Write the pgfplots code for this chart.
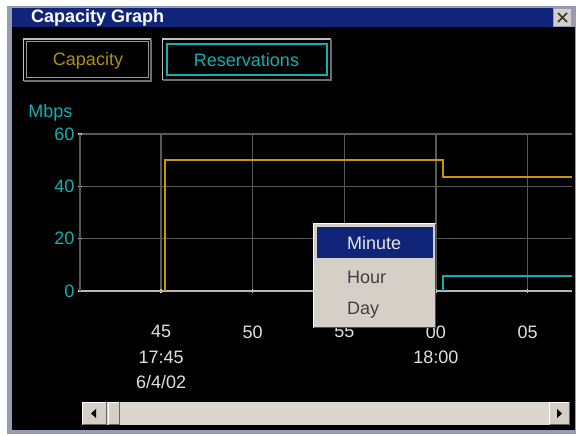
\documentclass[border=0pt]{standalone}
\usepackage{fontspec}
\setmainfont{Liberation Sans}
\usepackage{pgfplots}
\pgfplotsset{compat=1.18}
\definecolor{winblue}{RGB}{16,36,120}
\definecolor{btnface}{RGB}{212,208,200}
\definecolor{capcol}{RGB}{196,152,8}
\definecolor{captext}{RGB}{176,146,0}
\definecolor{rescol}{RGB}{16,176,176}
\definecolor{gridcol}{RGB}{88,88,88}
\definecolor{framecol}{RGB}{150,156,180}
\definecolor{btnlight}{RGB}{190,190,190}
\definecolor{btndark}{RGB}{110,110,110}
\begin{document}
\begin{tikzpicture}
\path[use as bounding box, fill=white] (0pt,0pt) rectangle (576pt,-435pt);
\begin{scope}[x=1pt,y=-1pt]
  % window frame
  \fill[framecol] (7,6) rectangle (576,434);
  \fill[black] (12,27) rectangle (575,430);
  % title bar
  \fill[winblue] (12,8) rectangle (553,27);
  \node[anchor=west, text=white, font=\bfseries\fontsize{18}{20}\selectfont, inner sep=0] at (31,18) {Capacity Graph};
  \fill[btnface] (554,9) rectangle (571,26);
  \draw[line width=1.6pt, black!80] (558,13) -- (567,22) (567,13) -- (558,22);
  % Capacity button
  \draw[line width=1.5pt, btnlight] (23.5,81) -- (23.5,39) -- (151,39);
  \draw[line width=1.5pt, btndark] (151,39) -- (151,81) -- (23.5,81);
  \draw[line width=1pt, btnlight!80!black] (26.5,78) rectangle (148,42);
  \node[text=captext, font=\fontsize{18}{20}\selectfont] at (88,60.5) {Capacity};
  % Reservations button
  \draw[line width=1.5pt, btnlight] (162.5,80) -- (162.5,39) -- (331,39);
  \draw[line width=1.5pt, btndark] (331,39) -- (331,80) -- (162.5,80);
  \draw[line width=2pt, rescol] (167,44) rectangle (326.5,75);
  \node[text=rescol, font=\fontsize{18}{20}\selectfont] at (246.5,60.5) {Reservations};
  % y unit label
  \node[text=rescol, font=\fontsize{18}{20}\selectfont, anchor=east] at (76,113) {Mbps};
\end{scope}

\begin{axis}[
  at={(80pt,-291pt)}, anchor=south west,
  scale only axis, width=492pt, height=157pt,
  xmin=40.58, xmax=67.42, ymin=0, ymax=60,
  axis x line*=bottom, axis y line*=left,
  x axis line style={draw=white!72!black, line width=1.8pt},
  y axis line style={draw=gridcol, line width=1.2pt},
  xtick={45,50,55,60,65}, ytick={0,20,40,60},
  xticklabels={{45\\17:45\\6/4/02},50,55,{00\\18:00},05},
  yticklabels={0,20,40,60},
  grid=major, major grid style={draw=gridcol, line width=1.2pt},
  tick style={draw=white!80!black, line width=1.2pt},
  major tick length=4pt, tick align=center,
  xticklabel style={align=center, text=white!88!black, font=\fontsize{18}{25.5}\selectfont, yshift=-29pt},
  yticklabel style={text=rescol, font=\fontsize{18}{20}\selectfont},
  clip=false,
]
\addplot[capcol, line width=1.8pt] coordinates {(45.23,0) (45.23,50) (60.40,50) (60.40,43.7) (67.42,43.7)};
\addplot[rescol, line width=1.8pt] coordinates {(60.40,0) (60.40,5.6) (67.42,5.6)};
\end{axis}

\begin{scope}[x=1pt,y=-1pt]
  % popup menu
  \fill[btnface] (313,223) rectangle (436,328);
  \draw[white, line width=1.2pt] (313.6,327.4) -- (313.6,223.6) -- (435.4,223.6);
  \draw[black!70, line width=1.2pt] (435.4,223.6) -- (435.4,327.4) -- (313.6,327.4);
  \fill[winblue] (316.5,227) rectangle (433,258);
  \node[anchor=west, text=white!90!black, font=\fontsize{18}{20}\selectfont, inner sep=0] at (347,243) {Minute};
  \node[anchor=west, text=black!75, font=\fontsize{18}{20}\selectfont, inner sep=0] at (347,277) {Hour};
  \node[anchor=west, text=black!75, font=\fontsize{18}{20}\selectfont, inner sep=0] at (347,310) {Day};
  % scrollbar
  \fill[btnface!85!white] (82,402) rectangle (570,425);
  % left arrow button
  \fill[btnface] (82,402) rectangle (107,425);
  \draw[white, line width=1pt] (82.5,424.5) -- (82.5,402.5) -- (106.5,402.5);
  \draw[black!60, line width=1pt] (106.5,402.5) -- (106.5,424.5) -- (82.5,424.5);
  \fill[black] (91,413.5) -- (96,409) -- (96,418) -- cycle;
  % thumb
  \fill[btnface] (108,402) rectangle (120,425);
  \draw[white, line width=1pt] (108.5,424.5) -- (108.5,402.5) -- (119.5,402.5);
  \draw[black!60, line width=1pt] (119.5,402.5) -- (119.5,424.5) -- (108.5,424.5);
  % right arrow button
  \fill[btnface] (549,402) rectangle (570,425);
  \draw[white, line width=1pt] (549.5,424.5) -- (549.5,402.5) -- (569.5,402.5);
  \draw[black!60, line width=1pt] (569.5,402.5) -- (569.5,424.5) -- (549.5,424.5);
  \fill[black] (562,413.5) -- (557,409) -- (557,418) -- cycle;
\end{scope}
\end{tikzpicture}
\end{document}
